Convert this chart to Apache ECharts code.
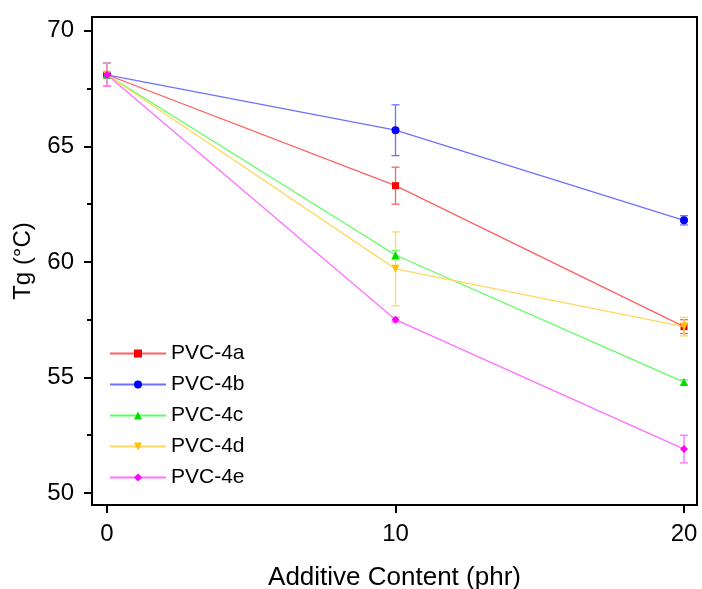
<!DOCTYPE html>
<html>
<head>
<meta charset="utf-8">
<script src="https://cdn.jsdelivr.net/npm/echarts@6/dist/echarts.min.js"></script>
<style>
  html, body { margin: 0; padding: 0; background: #fff; }
  #chart { width: 702px; height: 589px; }
</style>
</head>
<body>
<div id="chart"></div>
<script>
const content = [0, 10, 20];
const names = ['PVC-4a', 'PVC-4b', 'PVC-4c', 'PVC-4d', 'PVC-4e'];
const tgA = [68.1, 63.3, 57.2];
const tgB = [68.1, 65.7, 61.8];
const tgC = [68.1, 60.3, 54.8];
const tgD = [68.1, 59.7, 57.2];
const tgE = [68.1, 57.5, 51.9];
const errA = [0.5, 0.8, 0.3];
const errB = [0.5, 1.1, 0.2];
const errC = [0.5, 0.2, 0.1];
const errD = [0.5, 1.6, 0.4];
const errE = [0.5, 0.1, 0.6];
const yMajor = [50, 55, 60, 65, 70];
const yMinor = [52.5, 57.5, 62.5, 67.5];

const values = [tgA, tgB, tgC, tgD, tgE];
const errors = [errA, errB, errC, errD, errE];
const colors = ['#ff0000', '#0000ff', '#00dd00', '#ffc000', '#ff00ff'];
const lineColors = ['#ff6060', '#7070ff', '#60ff60', '#ffd860', '#ff70ff'];
const symbols = ['rect', 'circle', 'triangle', 'triangle', 'diamond'];
const rotates = [0, 0, 0, 180, 0];

const chart = echarts.init(document.getElementById('chart'));
const font = 'Liberation Sans, Arial, sans-serif';

const lineSeries = names.map((n, i) => ({
    name: n,
    type: 'line',
    data: content.map((x, j) => [x, values[i][j]]),
    symbol: symbols[i],
    symbolRotate: rotates[i],
    symbolSize: symbols[i] === 'rect' ? 7 : 8,
    z: 3 + i,
    lineStyle: { color: lineColors[i], width: 1.3 },
    itemStyle: { color: colors[i] }
}));

const errSeries = names.map((n, i) => ({
    name: n + ' err',
    type: 'custom',
    z: 2 + i,
    data: content.map((x, j) => [x, values[i][j] - errors[i][j], values[i][j] + errors[i][j]]),
    renderItem: (params, api) => {
        const x = api.value(0);
        const top = api.coord([x, api.value(2)]);
        const bot = api.coord([x, api.value(1)]);
        const w = 4;
        const st = { stroke: lineColors[i], lineWidth: 1.3 };
        return {
            type: 'group',
            children: [
                { type: 'line', shape: { x1: top[0], y1: top[1], x2: bot[0], y2: bot[1] }, style: st },
                { type: 'line', shape: { x1: top[0] - w, y1: top[1], x2: top[0] + w, y2: top[1] }, style: st },
                { type: 'line', shape: { x1: bot[0] - w, y1: bot[1], x2: bot[0] + w, y2: bot[1] }, style: st }
            ]
        };
    }
}));

const option = {
    backgroundColor: '#fff',
    animation: false,
    grid: {
        left: 92, top: 17, right: 5, bottom: 84,
        outerBoundsMode: 'none',
        containLabel: false,
        show: true, borderColor: '#000', borderWidth: 2
    },
    legend: {
        data: names,
        orient: 'vertical',
        left: 109,
        top: 343,
        padding: 0,
        itemWidth: 56,
        itemHeight: 10,
        itemGap: 10,
        textStyle: { fontSize: 21, color: '#000', fontFamily: font }
    },
    xAxis: {
        type: 'value',
        min: -0.52,
        max: 20.45,
        name: 'Additive Content (phr)',
        nameLocation: 'middle',
        nameGap: 60,
        nameTextStyle: { fontSize: 26, color: '#000', fontFamily: font },
        axisLine: { show: true, onZero: false, lineStyle: { color: '#000', width: 2 } },
        axisTick: { show: true, customValues: content, length: 8, lineStyle: { color: '#000', width: 2 } },
        axisLabel: { customValues: content, fontSize: 24, color: '#000', fontFamily: font, margin: 17 },
        splitLine: { show: false }
    },
    yAxis: [{
        type: 'value',
        min: 49.48,
        max: 70.6,
        name: 'Tg (°C)',
        nameLocation: 'middle',
        nameGap: 57,
        nameTextStyle: { fontSize: 24, color: '#000', fontFamily: font },
        axisLine: { show: true, onZero: false, lineStyle: { color: '#000', width: 2 } },
        axisTick: { show: true, customValues: yMajor, length: 8, lineStyle: { color: '#000', width: 2 } },
        axisLabel: { customValues: yMajor, fontSize: 24, color: '#000', fontFamily: font, margin: 18 },
        splitLine: { show: false }
    }, {
        type: 'value',
        position: 'left',
        min: 49.48,
        max: 70.6,
        axisLine: { show: false, onZero: false },
        axisTick: { show: true, customValues: yMinor, length: 5, lineStyle: { color: '#000', width: 2 } },
        axisLabel: { show: false },
        splitLine: { show: false }
    }],
    series: errSeries.concat(lineSeries)
};

chart.setOption(option);
</script>
</body>
</html>
